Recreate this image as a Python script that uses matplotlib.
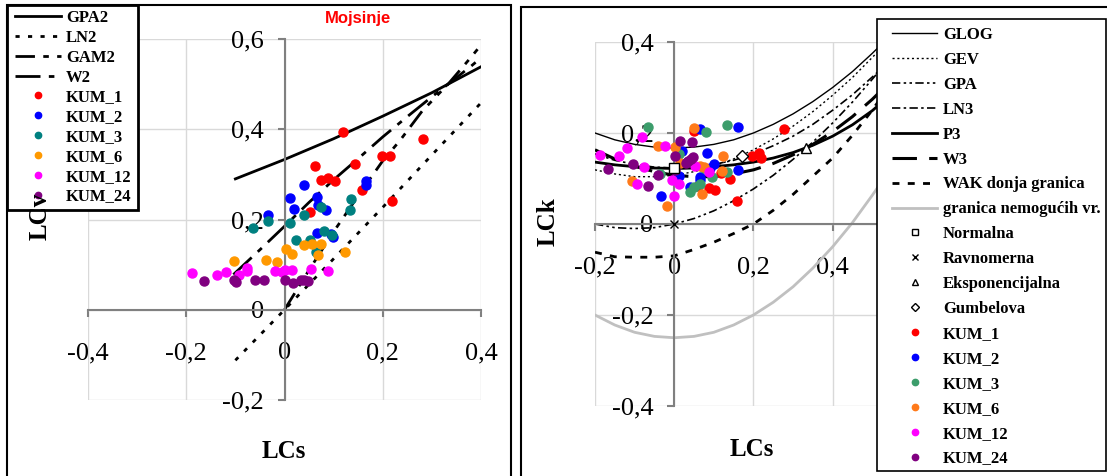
import matplotlib
matplotlib.use("Agg")
import matplotlib.pyplot as plt
from matplotlib.patches import Rectangle
from matplotlib.font_manager import FontProperties

plt.rcParams['font.family'] = ['Liberation Serif', 'DejaVu Serif']

# ---------------- left panel: LCs - LCv ----------------
gpa2_cs = [-0.1, 0.0, 0.1, 0.2, 0.3, 0.42]
gpa2_cv = [0.29, 0.333, 0.379, 0.429, 0.481, 0.55]
ln2_cs = [-0.1, 0.0, 0.1, 0.2, 0.3, 0.41]
ln2_cv = [-0.112, 0.0, 0.113, 0.227, 0.343, 0.47]
gam2_cs = [0.0, 0.05, 0.1, 0.163, 0.2, 0.235, 0.28, 0.333, 0.38, 0.41]
gam2_cv = [0.0, 0.088, 0.173, 0.273, 0.33, 0.375, 0.44, 0.5, 0.56, 0.6]
w2_cs = [-0.104, -0.05, 0.0, 0.05, 0.1, 0.15, 0.2, 0.25, 0.3, 0.333, 0.38, 0.415]
w2_cv = [0.078, 0.133, 0.185, 0.238, 0.288, 0.335, 0.383, 0.428, 0.472, 0.5, 0.54, 0.572]

kum1_cs = [0.119, 0.282, 0.063, 0.143, 0.198, 0.214, 0.075, 0.089, 0.102, 0.158, 0.219, 0.051]
kum1_cv = [0.394, 0.379, 0.319, 0.323, 0.341, 0.341, 0.287, 0.292, 0.285, 0.265, 0.242, 0.217]
kum2_cs = [-0.033, 0.011, 0.019, 0.039, 0.067, 0.069, 0.085, 0.165, 0.165, 0.067, 0.094, 0.099]
kum2_cv = [0.211, 0.248, 0.224, 0.277, 0.250, 0.233, 0.220, 0.285, 0.277, 0.170, 0.168, 0.161]
kum3_cs = [-0.064, -0.034, 0.011, 0.039, 0.075, 0.136, 0.133, 0.024, 0.051, 0.081, 0.096, 0.065]
kum3_cv = [0.182, 0.197, 0.192, 0.209, 0.228, 0.246, 0.220, 0.155, 0.154, 0.174, 0.165, 0.129]
kum6_cs = [-0.103, -0.037, -0.015, 0.003, 0.015, 0.039, 0.055, 0.075, 0.069, 0.124]
kum6_cv = [0.108, 0.111, 0.106, 0.135, 0.124, 0.143, 0.145, 0.145, 0.121, 0.128]
kum12_cs = [-0.189, -0.137, -0.120, -0.093, -0.077, -0.076, -0.020, -0.006, 0.002, 0.016, 0.053, 0.089]
kum12_cv = [0.082, 0.078, 0.084, 0.078, 0.092, 0.086, 0.086, 0.084, 0.087, 0.088, 0.091, 0.086]
kum24_cs = [-0.164, -0.103, -0.098, -0.061, -0.041, 0.002, 0.018, 0.033, 0.039, 0.048]
kum24_cv = [0.063, 0.065, 0.062, 0.065, 0.065, 0.066, 0.060, 0.067, 0.065, 0.063]

# ---------------- right panel: LCs - LCk ----------------
lcs_grid = [-0.2, -0.15, -0.1, -0.05, 0.0, 0.05, 0.1, 0.15, 0.2, 0.25, 0.3, 0.35, 0.4, 0.45, 0.5, 0.52]
glog = [0.200, 0.185, 0.175, 0.169, 0.167, 0.169, 0.175, 0.185, 0.200, 0.219, 0.242, 0.269, 0.300, 0.335, 0.375, 0.392]
gev = [0.119, 0.110, 0.104, 0.104, 0.107, 0.115, 0.127, 0.143, 0.163, 0.187, 0.215, 0.247, 0.283, 0.322, 0.366, 0.384]
gpa = [0.000, -0.008, -0.010, -0.008, 0.000, 0.012, 0.029, 0.051, 0.077, 0.107, 0.142, 0.180, 0.222, 0.268, 0.318, 0.339]
ln3 = [0.154, 0.140, 0.131, 0.125, 0.123, 0.125, 0.131, 0.140, 0.154, 0.172, 0.193, 0.219, 0.250, 0.284, 0.323, 0.339]
p3 = [0.136, 0.130, 0.126, 0.123, 0.122, 0.123, 0.126, 0.130, 0.136, 0.145, 0.157, 0.173, 0.193, 0.218, 0.249, 0.264]
w3 = [0.163, 0.143, 0.127, 0.115, 0.107, 0.104, 0.104, 0.110, 0.119, 0.133, 0.152, 0.175, 0.203, 0.236, 0.274, 0.291]
wak = [-0.062, -0.072, -0.073, -0.073, -0.070, -0.056, -0.040, -0.021, 0.000, 0.030, 0.065, 0.105, 0.145, 0.195, 0.250, 0.275]
bound = [-0.200, -0.222, -0.238, -0.247, -0.250, -0.247, -0.238, -0.222, -0.200, -0.172, -0.138, -0.097, -0.050, 0.003, 0.063, 0.088]

special_names = ['Normalna', 'Ravnomerna', 'Eksponencijalna', 'Gumbelova']
special_cs = [0.0, 0.0, 0.333, 0.170]
special_ck = [0.123, 0.0, 0.167, 0.150]

r1_cs = [0.050, 0.278, 0.196, 0.213, 0.219, 0.118, 0.141, 0.087, 0.102, 0.061, 0.158]
r1_ck = [0.205, 0.209, 0.149, 0.157, 0.144, 0.111, 0.100, 0.080, 0.075, 0.084, 0.051]
r2_cs = [0.066, 0.162, 0.019, 0.082, 0.101, 0.091, 0.066, 0.066, 0.039, 0.011, -0.034, 0.162]
r2_ck = [0.208, 0.214, 0.160, 0.157, 0.131, 0.122, 0.104, 0.097, 0.082, 0.106, 0.062, 0.119]
r3_cs = [-0.066, 0.133, 0.080, 0.032, 0.011, -0.035, 0.074, 0.095, 0.133, 0.039, 0.049, 0.064]
r3_ck = [0.213, 0.218, 0.202, 0.137, 0.154, 0.110, 0.122, 0.103, 0.114, 0.070, 0.082, 0.087]
r6_cs = [0.051, -0.040, 0.003, 0.122, 0.015, 0.066, 0.074, 0.120, -0.107, -0.017, 0.071]
r6_ck = [0.212, 0.172, 0.170, 0.149, 0.133, 0.127, 0.126, 0.117, 0.095, 0.040, 0.066]
r12_cs = [-0.082, -0.119, -0.023, -0.188, -0.139, -0.077, 0.053, 0.087, -0.094, -0.006, 0.013, 0.000]
r12_ck = [0.191, 0.166, 0.171, 0.152, 0.149, 0.125, 0.127, 0.115, 0.089, 0.097, 0.089, 0.062]
r24_cs = [0.015, 0.046, 0.003, 0.030, 0.036, 0.043, 0.048, -0.105, -0.166, -0.042, 0.001, -0.065]
r24_ck = [0.183, 0.181, 0.150, 0.133, 0.138, 0.143, 0.147, 0.132, 0.121, 0.108, 0.119, 0.084]

W, H = 1107, 476
fig = plt.figure(figsize=(W / 100, H / 100), dpi=100)

def fx(px):
    return px / W

def fy(py):
    return 1 - py / H

tick_font = 19
lab_font = FontProperties(family='Liberation Serif', weight='bold', size=18)
leg_font = FontProperties(family='Liberation Serif', weight='bold', size=12)
axis_gray = '#808080'


def style_axes(ax, xt, xl, yt, yl):
    for s in ['top', 'right']:
        ax.spines[s].set_visible(False)
    for s in ['left', 'bottom']:
        ax.spines[s].set_position(('data', 0))
        ax.spines[s].set_color(axis_gray)
        ax.spines[s].set_linewidth(1.5)
    ax.set_xticks(xt)
    ax.set_xticklabels(xl, fontsize=tick_font)
    ax.set_yticks(yt)
    ax.set_yticklabels(yl, fontsize=tick_font)
    ax.tick_params(axis='x', direction='out', length=5, width=1.5, color=axis_gray, pad=18.5)
    ax.tick_params(axis='y', direction='out', length=5, width=1.5, color=axis_gray, pad=10)
    ax.grid(True, color='#d9d9d9', lw=1)
    ax.set_axisbelow(True)
    ax.set_facecolor('none')


def legend_box(ax, x0, y0, x1, y1, lw):
    # white box with black border in figure pixels, drawn above the plot
    r = Rectangle((fx(x0), fy(y1)), fx(x1) - fx(x0), fy(y0) - fy(y1), transform=fig.transFigure,
                  fc='white', ec='black', lw=lw, clip_on=False, zorder=10)
    ax.add_patch(r)


# left axes
ax1 = fig.add_axes([fx(88), fy(400), fx(481) - fx(88), fy(39) - fy(400)])
ax1.set_xlim(-0.4, 0.4)
ax1.set_ylim(-0.2, 0.6)
style_axes(ax1, [-0.4, -0.2, 0, 0.2, 0.4], ['-0,4', '-0,2', '0', '0,2', '0,4'],
           [-0.2, 0, 0.2, 0.4, 0.6], ['-0,2', '0', '0,2', '0,4', '0,6'])

ax1.plot(gpa2_cs, gpa2_cv, '-', color='black', lw=2, label='GPA2')
ax1.plot(ln2_cs, ln2_cv, color='black', lw=2, ls=(0, (1.5, 3)), label='LN2')
ax1.plot(gam2_cs, gam2_cv, color='black', lw=2, ls=(0, (7, 3, 2, 3, 2, 3)), label='GAM2')
ax1.plot(w2_cs, w2_cv, color='black', lw=2, ls=(0, (9, 3, 2, 3)), label='W2')

left_sets = [(kum1_cs, kum1_cv, '#ff0000', 'KUM_1'),
             (kum2_cs, kum2_cv, '#0000ff', 'KUM_2'),
             (kum3_cs, kum3_cv, '#008080', 'KUM_3'),
             (kum6_cs, kum6_cv, '#ff9900', 'KUM_6'),
             (kum12_cs, kum12_cv, '#ff00ff', 'KUM_12'),
             (kum24_cs, kum24_cv, '#800080', 'KUM_24')]
for xs, ys, c, name in left_sets:
    ax1.plot(xs, ys, ls='none', marker='o', ms=6.5, mfc=c, mec=c, label=name, zorder=5)

legend_box(ax1, 7, 5, 138, 210, 2)
leg1 = ax1.legend(loc='upper left', bbox_to_anchor=(fx(15), fy(10)), bbox_transform=fig.transFigure,
                  prop=leg_font, frameon=False, borderaxespad=0, borderpad=0,
                  handlelength=2.75, handletextpad=0.3, labelspacing=0.23, markerscale=0.7)
leg1.set_zorder(11)

# right axes
ax2 = fig.add_axes([fx(595), fy(406), fx(877) - fx(595), fy(42) - fy(406)])
ax2.set_xlim(-0.2, 0.512)
ax2.set_ylim(-0.4, 0.4)
style_axes(ax2, [-0.2, 0, 0.2, 0.4], ['-0,2', '0', '0,2', '0,4'],
           [-0.4, -0.2, 0, 0.2, 0.4], ['-0,4', '-0,2', '0', '0,2', '0,4'])

ax2.plot(lcs_grid, glog, '-', color='black', lw=1, label='GLOG')
ax2.plot(lcs_grid, gev, color='black', lw=1, ls=(0, (1.5, 2)), label='GEV')
ax2.plot(lcs_grid, gpa, color='black', lw=1.2, ls=(0, (5, 2, 1.5, 2, 1.5, 2)), label='GPA')
ax2.plot(lcs_grid, ln3, color='black', lw=1.2, ls=(0, (5, 2, 1.5, 2)), label='LN3')
ax2.plot(lcs_grid, p3, '-', color='black', lw=2, label='P3')
ax2.plot(lcs_grid, w3, color='black', lw=2.2, ls=(0, (8, 4)), label='W3')
ax2.plot(lcs_grid, wak, color='black', lw=2, ls=(0, (2.5, 3)), label='WAK donja granica')
ax2.plot(lcs_grid, bound, '-', color='#c0c0c0', lw=2, label='granica nemogućih vr.')

special_markers = ['s', 'x', '^', 'D']
special_sizes = [7, 6, 7, 6]
for i in range(len(special_names)):
    ax2.plot(special_cs[i], special_ck[i], ls='none', marker=special_markers[i],
             ms=special_sizes[i], mfc='white', mec='black', mew=1, label=special_names[i], zorder=6)

right_sets = [(r1_cs, r1_ck, '#ff0000', 'KUM_1'),
              (r2_cs, r2_ck, '#0000ff', 'KUM_2'),
              (r3_cs, r3_ck, '#3c9d6b', 'KUM_3'),
              (r6_cs, r6_ck, '#ff7a1a', 'KUM_6'),
              (r12_cs, r12_ck, '#ff00ff', 'KUM_12'),
              (r24_cs, r24_ck, '#800080', 'KUM_24')]
for xs, ys, c, name in right_sets:
    ax2.plot(xs, ys, ls='none', marker='o', ms=6.5, mfc=c, mec=c, label=name, zorder=5)

legend_box(ax2, 877, 19, 1106, 471, 1.2)
leg2 = ax2.legend(loc='upper left', bbox_to_anchor=(fx(892), fy(27)), bbox_transform=fig.transFigure,
                  prop=leg_font, frameon=False, borderaxespad=0, borderpad=0,
                  handlelength=2.7, handletextpad=0.36, labelspacing=0.535, markerscale=0.7)
leg2.set_zorder(11)

# panel frames
fig.patches.append(Rectangle((fx(7), fy(485)), fx(511) - fx(7), fy(5) - fy(485), transform=fig.transFigure,
                             fill=False, ec='black', lw=1.5))
fig.patches.append(Rectangle((fx(521), fy(485)), fx(1120) - fx(521), fy(7) - fy(485), transform=fig.transFigure,
                             fill=False, ec='black', lw=1.5))

# labels
fig.text(fx(358), fy(18), 'Mojsinje', color='#ff0000', fontsize=12, weight='bold',
         family='Liberation Sans', ha='center', va='center')
fig.text(fx(40), fy(216), 'LCv', fontproperties=lab_font, rotation=90, ha='center', va='center')
fig.text(fx(284), fy(452), 'LCs', fontproperties=lab_font, ha='center', va='center')
fig.text(fx(548), fy(222), 'LCk', fontproperties=lab_font, rotation=90, ha='center', va='center')
fig.text(fx(752), fy(450), 'LCs', fontproperties=lab_font, ha='center', va='center')

fig.savefig('out.png', dpi=100)
